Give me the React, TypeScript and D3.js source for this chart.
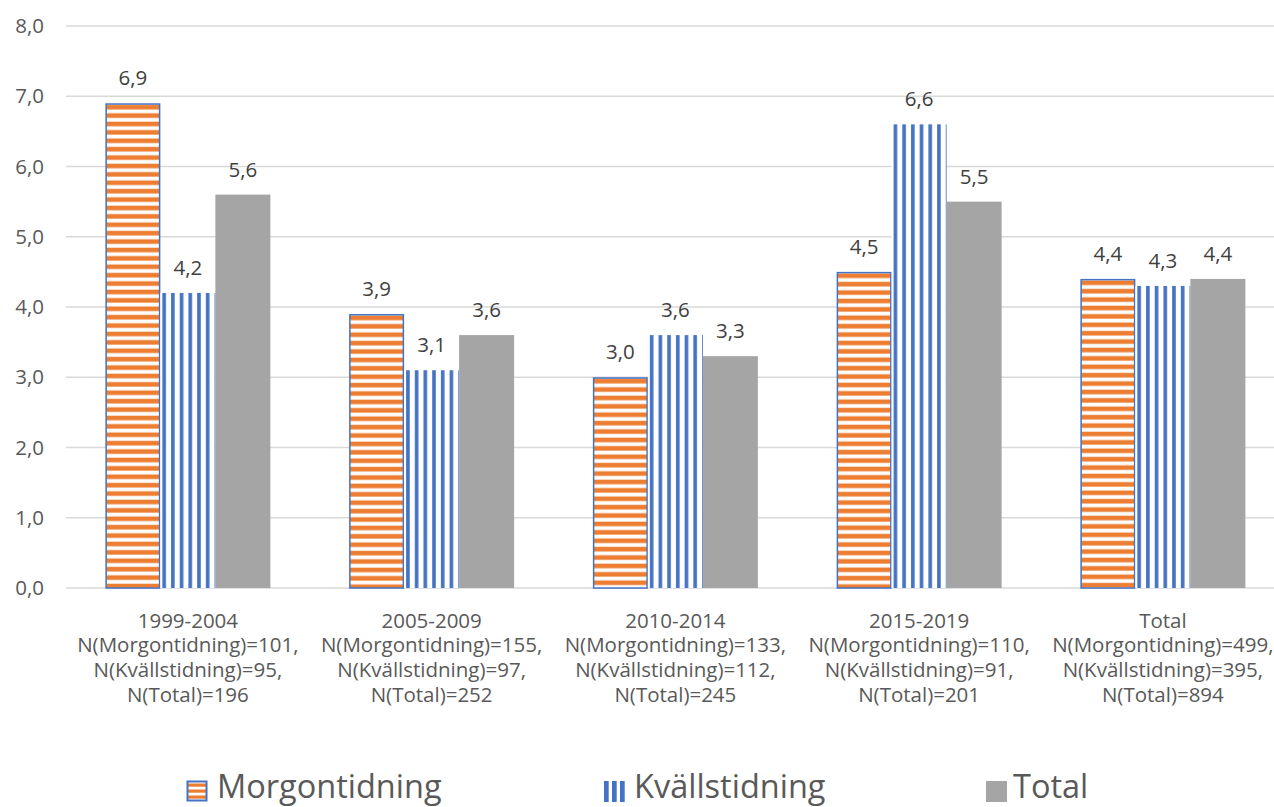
import * as d3 from "d3";

const categories = ["1999-2004", "2005-2009", "2010-2014", "2015-2019", "Total"];
const nMorgon = [101, 155, 133, 110, 499];
const nKvall = [95, 97, 112, 91, 395];
const nTotal = [196, 252, 245, 201, 894];
const morgon = [6.9, 3.9, 3.0, 4.5, 4.4];
const kvall = [4.2, 3.1, 3.6, 6.6, 4.3];
const total = [5.6, 3.6, 3.3, 5.5, 4.4];
const seriesNames = ["Morgontidning", "Kvällstidning", "Total"];
const yTicks = [0, 1, 2, 3, 4, 5, 6, 7, 8];

const W = 1274;
const H = 807;
const FONT = "'Open Sans', 'Noto Sans', sans-serif";
const TXT = "#595959";
const ORANGE = "#ED7D31";
const BLUE = "#4472C4";
const GRAY = "#A5A5A5";

const fmt = (v: number) => v.toFixed(1).replace(".", ",");

export default function App() {
  const x = d3.scaleBand<string>().domain(categories).range([66, 1284.75]);
  const groupW = 165;
  const inner = d3.scaleBand<string>().domain(seriesNames).range([0, groupW]);
  const y = d3.scaleLinear().domain([0, 8]).range([588, 26]);
  const values = [morgon, kvall, total];
  const bw = inner.bandwidth();

  const bars: { key: string; s: number; i: number; x: number; y: number; h: number; v: number }[] = [];
  categories.forEach((c, i) => {
    const gx = (x(c) as number) + (x.bandwidth() - groupW) / 2;
    seriesNames.forEach((s, si) => {
      const v = values[si][i];
      bars.push({ key: `${si}-${i}`, s: si, i, x: gx + (inner(s) as number), y: y(v), h: y(0) - y(v), v });
    });
  });

  return (
    <svg width={W} height={H} style={{ position: "absolute", left: 0, top: 0, background: "#fff" }} fontFamily={FONT}>
      <defs>
        {bars.filter((b) => b.s === 0).map((b) => (
          <pattern key={b.key} id={`hp-${b.i}`} patternUnits="userSpaceOnUse" x={b.x} y={b.y} width={10} height={8.4}>
            <rect width={10} height={8.4} fill="#fff" />
            <rect y={1.6} width={10} height={4.6} fill={ORANGE} />
          </pattern>
        ))}
        {bars.filter((b) => b.s === 1).map((b) => (
          <pattern key={b.key} id={`vp-${b.i}`} patternUnits="userSpaceOnUse" x={b.x} y={b.y} width={8.7} height={10}>
            <rect width={8.7} height={10} fill="#fff" />
            <rect x={2} width={3.6} height={10} fill={BLUE} />
          </pattern>
        ))}
        <pattern id="lg-h" patternUnits="userSpaceOnUse" x={187} y={782} width={10} height={6}>
          <rect width={10} height={6} fill="#fff" />
          <rect y={1.5} width={10} height={3.2} fill={ORANGE} />
        </pattern>
      </defs>

      {yTicks.map((t) => (
        <g key={t}>
          <line x1={66} x2={W} y1={y(t)} y2={y(t)} stroke="#D9D9D9" strokeWidth={1.3} />
          <text x={44} y={y(t) + 7} textAnchor="end" fontSize={20.5} fill={TXT}>
            {fmt(t)}
          </text>
        </g>
      ))}

      {bars.map((b) => (
        <g key={b.key}>
          {b.s === 0 && (
            <rect x={b.x + 0.75} y={b.y + 0.75} width={bw - 1.5} height={b.h - 0.75} fill={`url(#hp-${b.i})`} stroke={BLUE} strokeWidth={1.5} />
          )}
          {b.s === 1 && <rect x={b.x} y={b.y} width={bw} height={b.h} fill={`url(#vp-${b.i})`} />}
          {b.s === 2 && <rect x={b.x} y={b.y} width={bw} height={b.h} fill={GRAY} />}
          <text x={b.x + bw / 2} y={b.y - 18} textAnchor="middle" fontSize={20.5} fill="#404040">
            {fmt(b.v)}
          </text>
        </g>
      ))}

      {categories.map((c, i) => {
        const cx = (x(c) as number) + x.bandwidth() / 2;
        const lines = [c, `N(Morgontidning)=${nMorgon[i]},`, `N(Kvällstidning)=${nKvall[i]},`, `N(Total)=${nTotal[i]}`];
        return (
          <text key={c} textAnchor="middle" fontSize={20.5} fill={TXT}>
            {lines.map((l, li) => (
              <tspan key={li} x={cx} y={627.5 + li * 24.7}>
                {l}
              </tspan>
            ))}
          </text>
        );
      })}

      <g>
        <rect x={187.5} y={781.5} width={19} height={19} fill="url(#lg-h)" stroke={BLUE} strokeWidth={2} />
        <text x={217} y={798} fontSize={32.5} fill={TXT}>Morgontidning</text>
        {[0, 1, 2].map((k) => (
          <rect key={k} x={604 + k * 8} y={781} width={4.7} height={21} fill={BLUE} />
        ))}
        <text x={634} y={798} fontSize={32.5} fill={TXT}>Kvällstidning</text>
        <rect x={986} y={781} width={21} height={21} fill={GRAY} />
        <text x={1013} y={798} fontSize={32.5} fill={TXT}>Total</text>
      </g>
    </svg>
  );
}
